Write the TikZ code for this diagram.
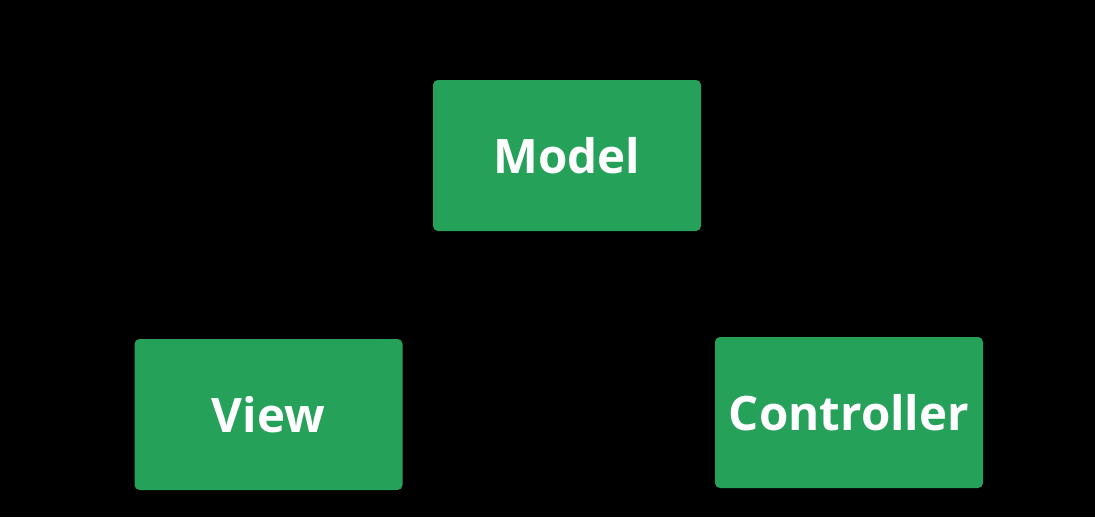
\documentclass[tikz,border=0pt]{standalone}
\usepackage{fontspec}
\setmainfont{Open Sans}
\begin{document}
\begin{tikzpicture}[x=1pt,y=-1pt,
  mvcbox/.style={fill={rgb,255:red,37;green,161;blue,90}, rounded corners=5pt,
    minimum width=268pt, minimum height=151pt, inner sep=0pt,
    text=white, font=\fontsize{47.5}{50}\selectfont\bfseries}]
  % canvas
  \fill[black] (0,0) rectangle (1095,517);
  \useasboundingbox (0,0) rectangle (1095,517);
  % the three parts of the pattern
  \node[mvcbox] (model) at (567,155.5) {Model};
  \node[mvcbox] (view) at (268.5,414.5) {View};
  \node[mvcbox] (controller) at (849,412.5) {Controller};
\end{tikzpicture}
\end{document}
